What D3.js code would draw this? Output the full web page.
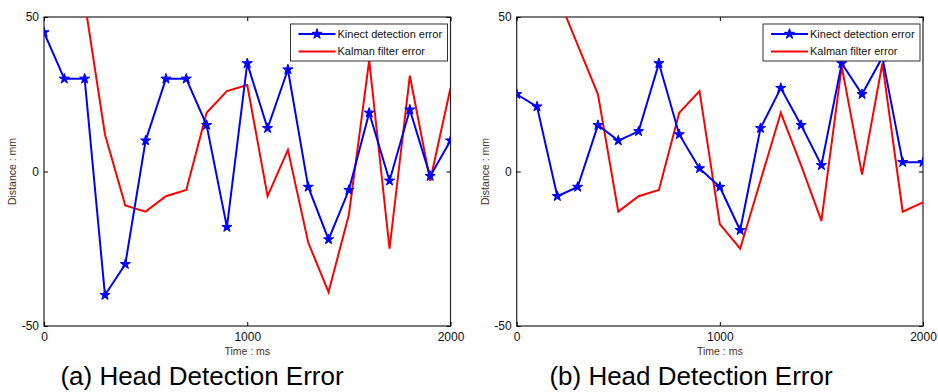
<!DOCTYPE html>
<html>
<head>
<meta charset="utf-8">
<script src="https://cdn.jsdelivr.net/npm/d3@7"></script>
<style>
  body { margin: 0; background: #fff; }
  svg { display: block; font-family: Arial, "Liberation Sans", sans-serif; }
</style>
</head>
<body>
<div id="chart"></div>
<script>
// time stamps (ms)
const time = [0, 100, 200, 300, 400, 500, 600, 700, 800, 900, 1000,
  1100, 1200, 1300, 1400, 1500, 1600, 1700, 1800, 1900, 2000];

// (a) head detection error
const kinectA = [45, 30, 30, -40, -30, 10, 30, 30, 15, -18, 35,
  14, 33, -5, -22, -6, 19, -3, 20, -1.5, 10];
const kalmanA = [null, null, 55, 12, -11, -13, -8, -6, 19, 26, 28,
  -8, 7, -23, -39, -14, 36, -25, 31, -3, 27];

// (b) head detection error
const kinectB = [25, 21, -8, -5, 15, 10, 13, 35, 12, 1, -5,
  -19, 14, 27, 15, 2, 35, 25, 37, 3, 3];
const kalmanB = [null, null, 57, 41, 25, -13, -8, -6, 19, 26, -17,
  -25, -3, 19, 2, -16, 34, -1, 35, -13, -10];

const xTicks = [0, 1000, 2000];
const yTicks = [-50, 0, 50];
const legendLabels = ["Kinect detection error", "Kalman filter error"];
const captions = ["(a) Head Detection Error", "(b) Head Detection Error"];

const width = 938, height = 392;

const svg = d3.select("#chart").append("svg")
  .attr("width", width)
  .attr("height", height);

// plain labels, hyphen minus like the original
const plain = (d) => String(d);

function drawPanel(idx, left, right, kinect, kalman) {
  const top = 17, bottom = 326;
  const x = d3.scaleLinear().domain([0, 2000]).range([left, right]);
  const y = d3.scaleLinear().domain([-50, 50]).range([bottom, top]);

  const g = svg.append("g");

  const clipId = "clip" + idx;
  g.append("clipPath").attr("id", clipId)
    .append("rect")
    .attr("x", left).attr("y", top)
    .attr("width", right - left).attr("height", bottom - top);

  // box
  g.append("rect")
    .attr("x", left).attr("y", top)
    .attr("width", right - left).attr("height", bottom - top)
    .attr("fill", "none")
    .attr("stroke", "#222")
    .attr("stroke-width", 1.2);

  // ticks (inward, both sides)
  g.append("g").attr("transform", "translate(0," + bottom + ")")
    .call(d3.axisBottom(x).tickValues(xTicks).tickSize(-4).tickSizeOuter(0).tickPadding(6).tickFormat(plain))
    .call(a => a.select(".domain").remove())
    .call(a => a.selectAll("text").attr("font-size", 12).attr("fill", "#111"));
  g.append("g").attr("transform", "translate(0," + top + ")")
    .call(d3.axisTop(x).tickValues(xTicks).tickSize(-4).tickSizeOuter(0).tickFormat(""))
    .call(a => a.select(".domain").remove());
  g.append("g").attr("transform", "translate(" + left + ",0)")
    .call(d3.axisLeft(y).tickValues(yTicks).tickSize(-4).tickSizeOuter(0).tickPadding(5).tickFormat(plain))
    .call(a => a.select(".domain").remove())
    .call(a => a.selectAll("text").attr("font-size", 12).attr("fill", "#111"));
  g.append("g").attr("transform", "translate(" + right + ",0)")
    .call(d3.axisRight(y).tickValues(yTicks).tickSize(-4).tickSizeOuter(0).tickFormat(""))
    .call(a => a.select(".domain").remove());

  // axis labels
  g.append("text")
    .attr("x", (left + right) / 2)
    .attr("y", 355)
    .attr("text-anchor", "middle")
    .attr("font-size", 10.5)
    .attr("fill", "#4a3020")
    .text("Time : ms");
  g.append("text")
    .attr("transform", "translate(" + (left - 28) + "," + ((top + bottom) / 2) + ") rotate(-90)")
    .attr("text-anchor", "middle")
    .attr("font-size", 10.5)
    .attr("fill", "#4a3020")
    .text("Distance : mm");

  const line = (vals) => d3.line()
    .defined((d, i) => vals[i] !== null)
    .x((d, i) => x(time[i]))
    .y((d, i) => y(vals[i]))(vals);

  const plot = g.append("g").attr("clip-path", "url(#" + clipId + ")");

  plot.append("path")
    .attr("d", line(kalman))
    .attr("fill", "none")
    .attr("stroke", "#ff0000")
    .attr("stroke-width", 2);

  plot.append("path")
    .attr("d", line(kinect))
    .attr("fill", "none")
    .attr("stroke", "#0000ff")
    .attr("stroke-width", 2);

  plot.selectAll("path.mark")
    .data(kinect)
    .enter()
    .append("path")
    .attr("class", "mark")
    .attr("d", d3.symbol().type(d3.symbolStar).size(32))
    .attr("transform", (d, i) => "translate(" + x(time[i]) + "," + y(d) + ")")
    .attr("fill", "#0000ff")
    .attr("stroke", "#0000ff")
    .attr("stroke-width", 1);

  // legend
  const lx = right - 160, ly = 24;
  const leg = g.append("g");
  leg.append("rect")
    .attr("x", lx).attr("y", ly)
    .attr("width", 157).attr("height", 37)
    .attr("fill", "#fff")
    .attr("stroke", "#333")
    .attr("stroke-width", 1);
  const colors = ["#0000ff", "#ff0000"];
  legendLabels.forEach((lab, i) => {
    const yy = ly + 10 + i * 17.5;
    leg.append("line")
      .attr("x1", lx + 8).attr("x2", lx + 45)
      .attr("y1", yy).attr("y2", yy)
      .attr("stroke", colors[i]).attr("stroke-width", 2);
    if (i === 0) {
      leg.append("path")
        .attr("d", d3.symbol().type(d3.symbolStar).size(32))
        .attr("transform", "translate(" + (lx + 26.5) + "," + yy + ")")
        .attr("fill", "#0000ff")
        .attr("stroke", "#0000ff")
        .attr("stroke-width", 1);
    }
    leg.append("text")
      .attr("x", lx + 47).attr("y", yy)
      .attr("dy", "0.35em")
      .attr("font-size", 11)
      .attr("fill", "#111")
      .text(lab);
  });

  // caption
  svg.append("text")
    .attr("x", idx === 0 ? 202 : 691)
    .attr("y", 385)
    .attr("text-anchor", "middle")
    .attr("font-size", 26)
    .attr("fill", "#000")
    .text(captions[idx]);
}

drawPanel(0, 44, 450.5, kinectA, kalmanA);
drawPanel(1, 516.7, 923, kinectB, kalmanB);
</script>
</body>
</html>
